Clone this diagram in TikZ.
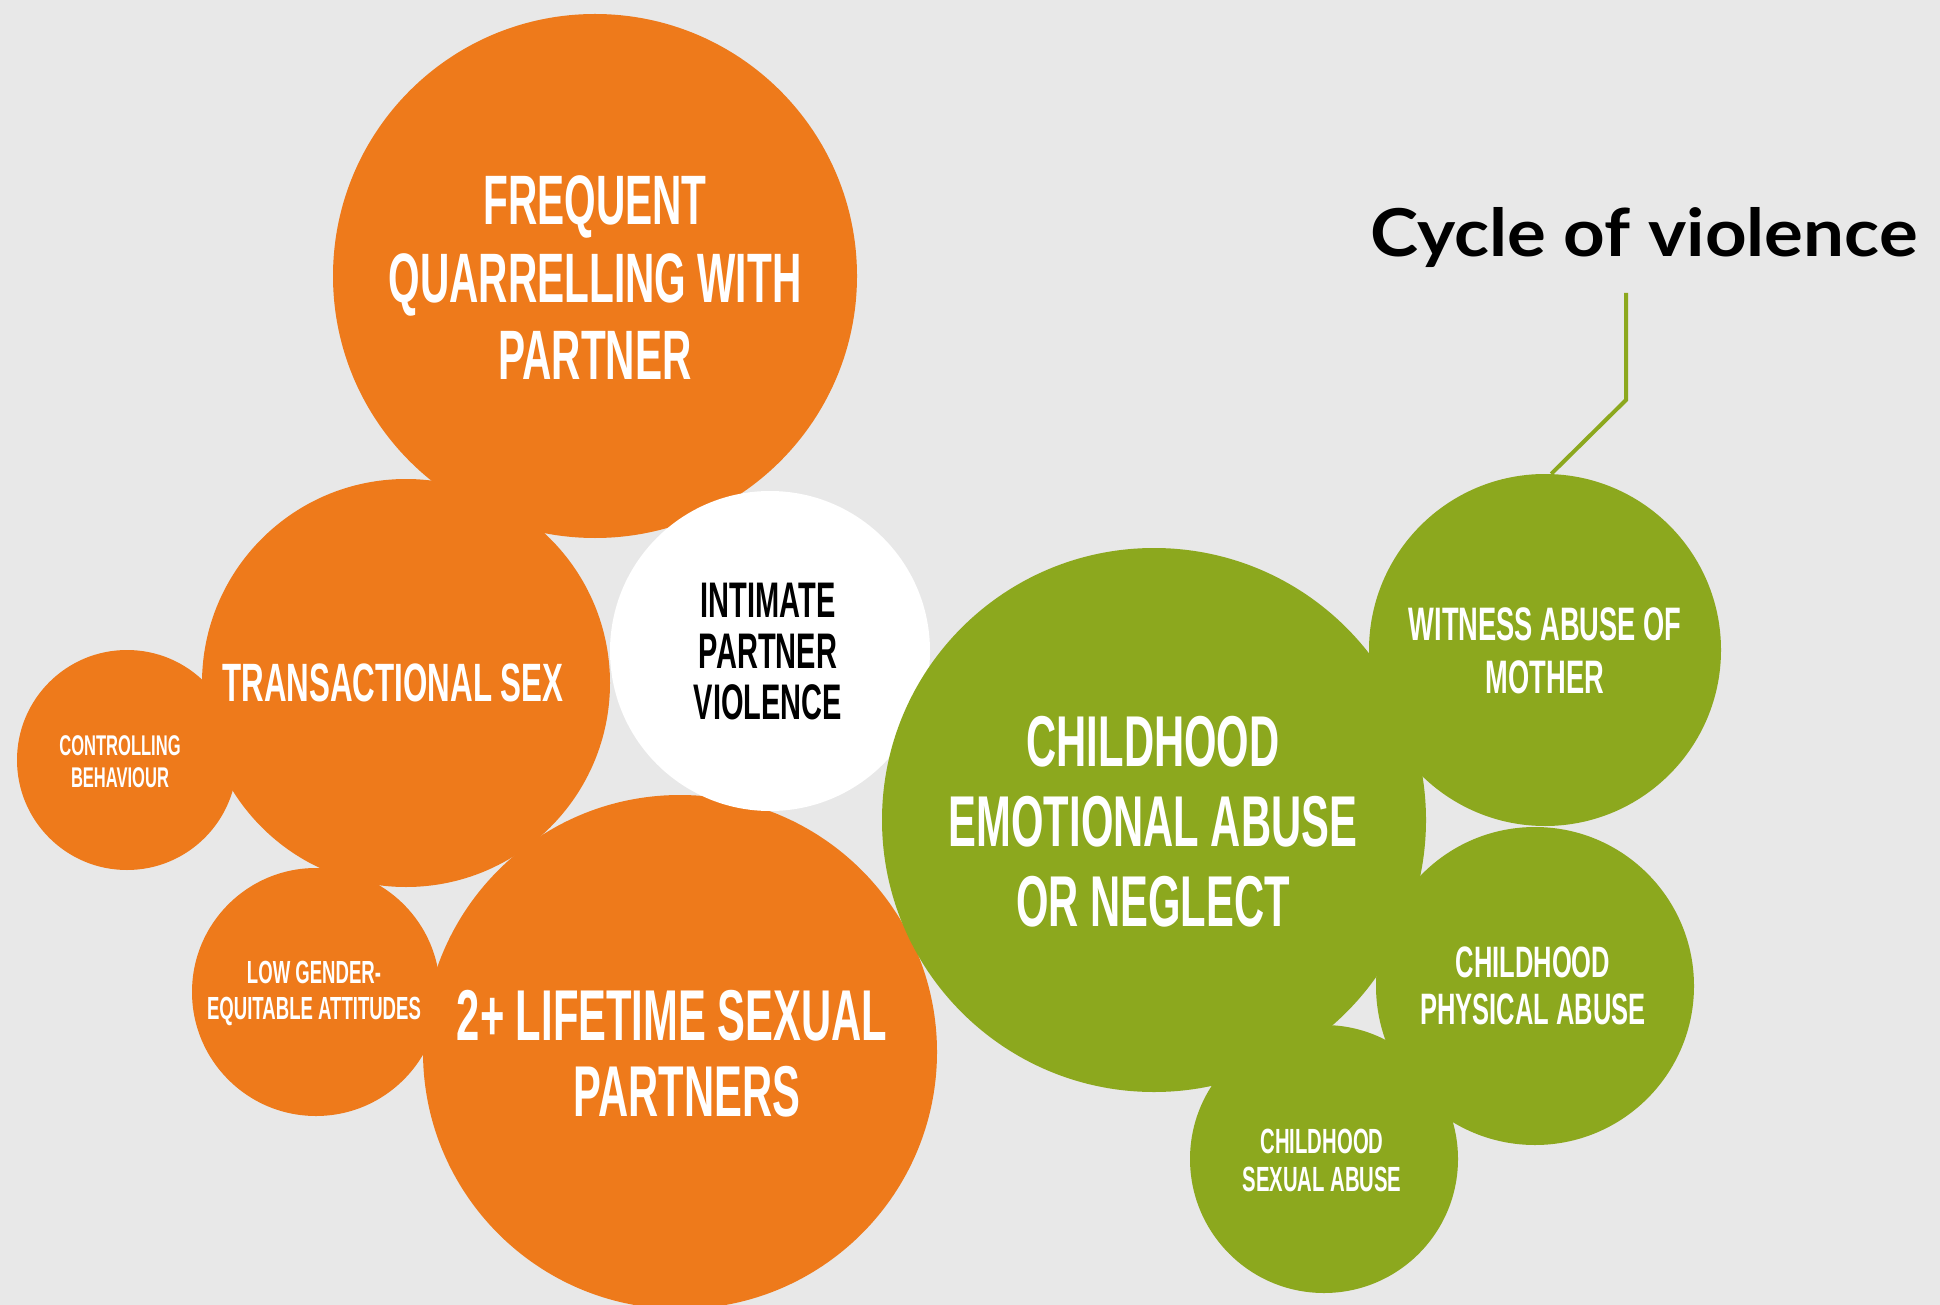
\documentclass[tikz,border=0pt]{standalone}
\usepackage{fontspec}
\newfontfamily\cond[FakeStretch=0.58]{Liberation Sans}
\newfontfamily\titlefont[FakeStretch=1.1]{Lato}
\definecolor{bgc}{RGB}{232,232,232}
\definecolor{org}{RGB}{238,122,27}
\definecolor{grn}{RGB}{140,168,30}
\tikzset{
  bub/.style={circle, inner sep=0pt, minimum size=#1},
  obub/.style={bub=#1, fill=org},
  gbub/.style={bub=#1, fill=grn},
  wbub/.style={bub=#1, fill=white},
  lab/.style 2 args={align=center, inner sep=0pt, text=white,
    font=\cond\bfseries\fontsize{#1}{#2}\selectfont},
}
\begin{document}
\begin{tikzpicture}[x=1pt, y=-1pt]
\fill[bgc] (0,0) rectangle (1940,1305);
\useasboundingbox (0,0) rectangle (1940,1305);
% orange circles
\node[obub=524] (freq) at (595,276) {};
\node[obub=408] (trans) at (406,683) {};
\node[obub=220] (ctrl) at (127,760) {};
\node[obub=248] (low) at (316,992) {};
\node[obub=514] (life) at (680,1052) {};
% white circle
\node[wbub=320] (ipv) at (770,651) {};
% green circles
\node[gbub=544] (emo) at (1154,820) {};
\node[gbub=352] (wit) at (1545,650) {};
\node[gbub=318] (phys) at (1535,986) {};
\node[gbub=268] (sex) at (1324,1159) {};
% labels
\node[lab={70}{77.5}] (tfreq) at (595,278) {FREQUENT\\QUARRELLING WITH\\PARTNER};
\node[lab={54}{60}] (ttrans) at (393,683) {TRANSACTIONAL SEX};
\node[lab={28.5}{32}] (tctrl) at (120,762) {CONTROLLING\\BEHAVIOUR};
\node[lab={32}{36}] (tlow) at (314,993) {LOW GENDER-\\EQUITABLE ATTITUDES};
\node[lab={72}{76}] (tlife) at (672,1054) {2+ LIFETIME SEXUAL\\\hspace*{30pt}PARTNERS};
\node[lab={50}{51}, text=black] (tipv) at (768,652) {INTIMATE\\PARTNER\\VIOLENCE};
\node[lab={72}{80}] (temo) at (1153,822) {CHILDHOOD\\EMOTIONAL ABUSE\\OR NEGLECT};
\node[lab={47}{53}] (twit) at (1545,651) {WITNESS ABUSE OF\\MOTHER};
\node[lab={44}{47}] (tphys) at (1533,986) {CHILDHOOD\\PHYSICAL ABUSE};
\node[lab={35}{38}] (tsex) at (1322,1160) {CHILDHOOD\\SEXUAL ABUSE};
% title and connector
\node[anchor=base, inner sep=0pt, font=\titlefont\bfseries\fontsize{66}{70}\selectfont] (cyc) at (1644,257) {Cycle of violence};
\coordinate (ltop) at (1626,293);
\coordinate (lbend) at (1626,400);
\draw[grn, line width=4pt, line join=miter] (wit.88) -- (lbend) -- (ltop);
\end{tikzpicture}
\end{document}
